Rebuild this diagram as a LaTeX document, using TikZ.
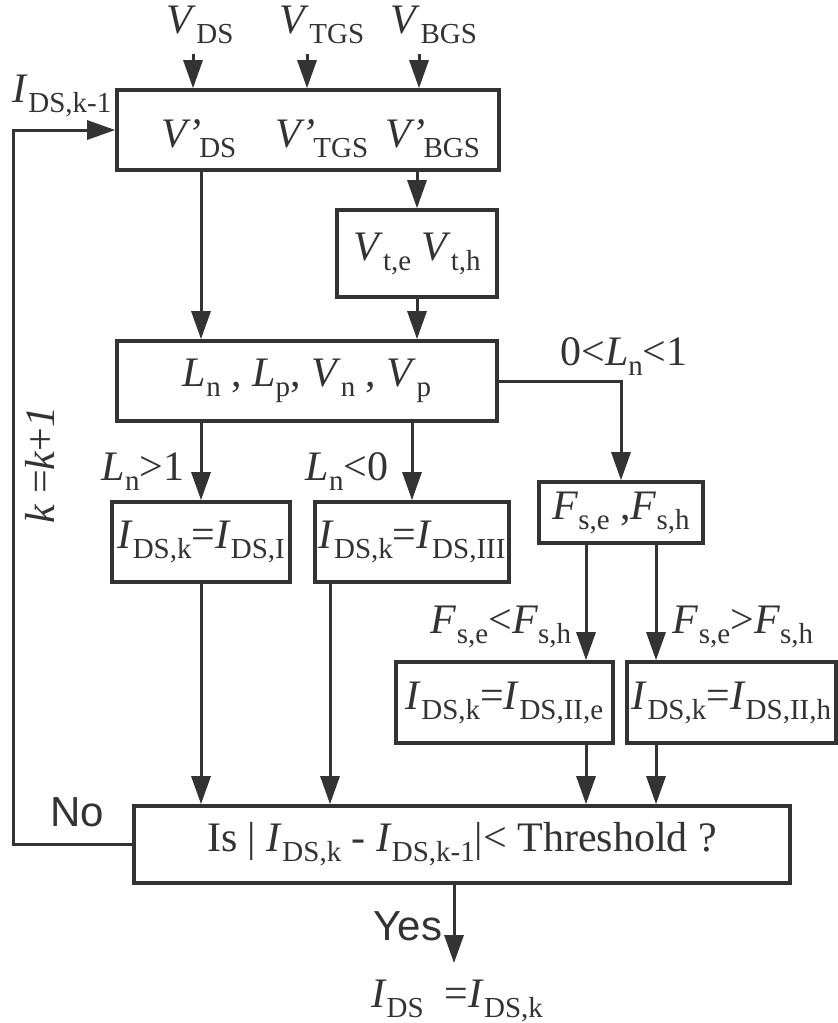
\documentclass[tikz,border=0pt]{standalone}
\usepackage{fontspec}
\setmainfont{Liberation Serif}
\newfontfamily\arialfont{Liberation Sans}
\usetikzlibrary{arrows.meta}
\definecolor{ink}{HTML}{333333}
% italic symbol with lowered upright subscript
\newcommand\sbs[1]{\raisebox{-5pt}{\fontsize{14.5}{17}\selectfont #1}}
\newcommand\vs[2]{\textit{#1}\sbs{#2}}
\newcommand\vp[2]{\textit{#1’}\kern-1pt\sbs{#2}}

\begin{document}
\begin{tikzpicture}[
  x=0.5pt, y=-0.5pt,
  font=\fontsize{21}{25}\selectfont,
  color=ink,
  box/.style={draw, line width=1.8pt, inner sep=0pt, align=center},
  lab/.style={inner sep=0pt},
  flow/.style={-{Triangle[length=14pt,width=9.5pt]}, line width=1.5pt},
]
  \useasboundingbox (0,0) rectangle (838,1023);

  % boxes
  \node[box, minimum width=191pt, minimum height=40pt] (inp) at (308,130) {};
  \node[box, minimum width=80pt, minimum height=43.5pt] (vt) at (417,253.5)
       {\vs{V}{t,e}\hspace{5pt}\vs{V}{t,h}};
  \node[box, minimum width=190pt, minimum height=40pt] (ln) at (307,381)
       {\vs{L}{n} , \vs{L}{p}, \vs{V}{n} , \vs{V}{p}};
  \node[box, minimum width=82pt, minimum height=30.5pt] (fs) at (621,512.5)
       {\vs{F}{s,e} ,\vs{F}{s,h}};
  \node[box, minimum width=89pt, minimum height=40pt] (b1) at (201,542)
       {\vs{I}{DS,k}=\vs{I}{DS,I}};
  \node[box, minimum width=97pt, minimum height=40pt] (b3) at (412,542)
       {\vs{I}{DS,k}=\vs{I}{DS,III}};
  \node[box, minimum width=108.5pt, minimum height=40.5pt] (b2e) at (504.5,702.5)
       {\vs{I}{DS,k}=\vs{I}{DS,II,e}};
  \node[box, minimum width=104.5pt, minimum height=40.5pt] (b2h) at (731.5,702.5)
       {\vs{I}{DS,k}=\vs{I}{DS,II,h}};
  \node[box, minimum width=328pt, minimum height=38.5pt] (th) at (462,844.5)
       {Is | \vs{I}{DS,k} - \vs{I}{DS,k-1}|< Threshold ?};

  % inputs
  \node[lab, anchor=base] (vds) at (200,33) {\vs{V}{DS}};
  \node[lab, anchor=base] (vtgs) at (322,33) {\vs{V}{TGS}};
  \node[lab, anchor=base] (vbgs) at (434,33) {\vs{V}{BGS}};
  \node[lab, anchor=base] (vdsp) at (199,147) {\vp{V}{DS}};
  \node[lab, anchor=base] (vtgsp) at (322,147) {\vp{V}{TGS}};
  \node[lab, anchor=base] (vbgsp) at (433,147) {\vp{V}{BGS}};

  % condition labels
  \node[lab, anchor=base] (cmid) at (624,365) {0<\vs{L}{n}<1};
  \node[lab, anchor=base] (cone) at (143,480) {\vs{L}{n}>1};
  \node[lab, anchor=base] (czero) at (347,480) {\vs{L}{n}<0};
  \node[lab, anchor=base] (clow) at (501,633) {\vs{F}{s,e}<\vs{F}{s,h}};
  \node[lab, anchor=base] (chigh) at (743,633) {\vs{F}{s,e}>\vs{F}{s,h}};

  % loop and result labels
  \node[lab, anchor=base] (prev) at (62,102) {\vs{I}{DS,k-1}};
  \node[lab, rotate=90] (incr) at (40,465) {\textit{k} =\textit{k}+\textit{1}};
  \node[lab, anchor=base, font=\arialfont\fontsize{21}{25}\selectfont] (no) at (77,826) {No};
  \node[lab, anchor=base, font=\arialfont\fontsize{21}{25}\selectfont] (yes) at (408,940) {Yes};
  \node[lab, anchor=base] (res) at (457,1007) {\vs{I}{DS}\ \ =\vs{I}{DS,k}};

  % x positions of the vertical connectors
  \coordinate (a1) at (193,0);
  \coordinate (a2) at (307,0);
  \coordinate (a3) at (419,0);
  \coordinate (x3) at (330,0);
  \coordinate (xe) at (586,0);
  \coordinate (xh) at (656,0);
  \coordinate (lp) at (13,0);
  \coordinate (xy) at (454,0);

  \draw[flow, shorten <=5pt] (vds.south -| a1) -- (inp.north -| a1);
  \draw[flow, shorten <=5pt] (vtgs.south -| a2) -- (inp.north -| a2);
  \draw[flow, shorten <=5pt] (vbgs.south -| a3) -- (inp.north -| a3);

  \draw[flow] (inp.south -| b1) -- (ln.north -| b1);
  \draw[flow] (inp.south -| vt) -- (vt.north);
  \draw[flow] (vt.south) -- (ln.north -| vt);

  \draw[flow] (ln.south -| b1) -- (b1.north);
  \draw[flow] (ln.south -| b3) -- (b3.north);
  \draw[flow] (ln.east) -| (fs.north);

  \draw[flow] (fs.south -| xe) -- (b2e.north -| xe);
  \draw[flow] (fs.south -| xh) -- (b2h.north -| xh);

  \draw[flow] (b1.south) -- (th.north -| b1);
  \draw[flow] (b3.south -| x3) -- (th.north -| x3);
  \draw[flow] (b2e.south -| xe) -- (th.north -| xe);
  \draw[flow] (b2h.south -| xh) -- (th.north -| xh);

  % iteration loop
  \draw[flow] (th.west) -- (th.west -| lp) -- (inp.west -| lp) -- (inp.west);
  \draw[flow, shorten >=8pt] (th.south -| xy) -- (res.north -| xy);
\end{tikzpicture}
\end{document}
